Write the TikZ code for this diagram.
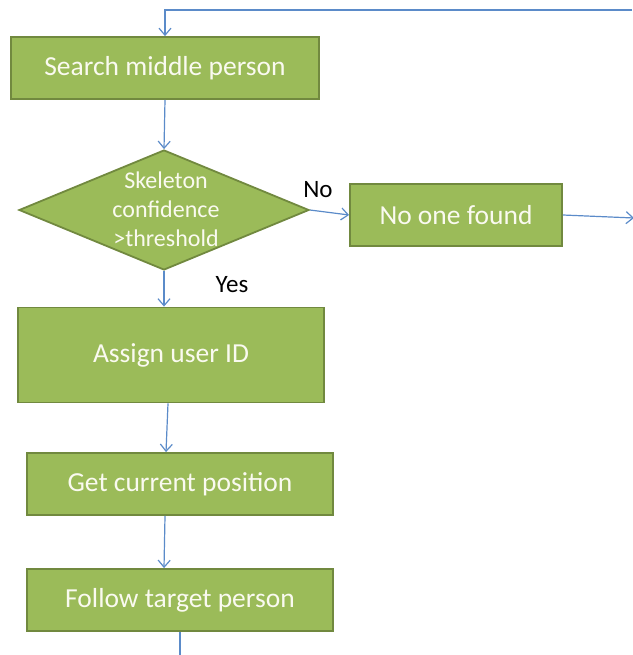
\documentclass[tikz,border=0pt]{standalone}
\usepackage{fontspec}
\setmainfont{Carlito}
\usetikzlibrary{shapes.geometric,arrows.meta}
\definecolor{boxfill}{HTML}{9BBB59}
\definecolor{boxdraw}{HTML}{71893F}
\definecolor{arrowblue}{HTML}{5B8BC9}
\definecolor{txt}{HTML}{FAFAF0}
\tikzset{
  stepbox/.style={draw=boxdraw, line width=1.8pt, fill=boxfill, inner sep=0pt,
    text=txt, font=\fontsize{27.5}{30}\selectfont},
  decbox/.style={draw=boxdraw, line width=1.8pt, fill=boxfill, shape=diamond, inner sep=0pt,
    minimum width=290pt, minimum height=120pt},
  dectext/.style={text=txt, align=center, font=\fontsize{24}{29}\selectfont},
  lbl/.style={text=black, font=\fontsize{25}{29}\selectfont},
  arr/.style={draw=arrowblue, line width=1.2pt, -{Straight Barb[length=7pt,width=12pt,line width=1.2pt]}},
  ln/.style={draw=arrowblue, line width=1.2pt}
}
\begin{document}
\begin{tikzpicture}[x=1pt,y=-1pt]
\useasboundingbox (0,0) rectangle (632,655);
\node[stepbox, minimum width=308pt, minimum height=62pt] (search) at (165,68) {Search middle person};
\node[decbox] (dec) at (164,210) {};
\node[dectext] (dectxt) at (166,209) {Skeleton\\confidence\\>threshold};
\node[stepbox, minimum width=212pt, minimum height=62pt] (none) at (456,215) {No one found};
\node[stepbox, minimum width=306pt, minimum height=95pt] (assign) at (171,355) {Assign user ID};
\node[stepbox, minimum width=306pt, minimum height=62pt] (getpos) at (180,484) {Get current position};
\node[stepbox, minimum width=306pt, minimum height=62pt] (follow) at (180,600) {Follow target person};
\node[lbl] (no) at (318,190) {No};
\node[lbl] (yes) at (232,285) {Yes};
\coordinate (topright) at (632,10);
\coordinate (rightout) at (634,218);
\coordinate (bottomout) at (180,656);
\draw[arr] (topright) -| (search.north);
\draw[arr] (search.south) -- (dec.north);
\draw[arr] (dec.east) -- (none.west);
\draw[arr] (none.east) -- (rightout);
\draw[arr] (dec.south) -- (dec.south |- assign.north);
\draw[arr] (assign.south -| 168,0) -- (getpos.north -| 166,0);
\draw[arr] (getpos.south -| 165,0) -- (follow.north -| 164,0);
\draw[ln] (follow.south) -- (bottomout);
\end{tikzpicture}
\end{document}
